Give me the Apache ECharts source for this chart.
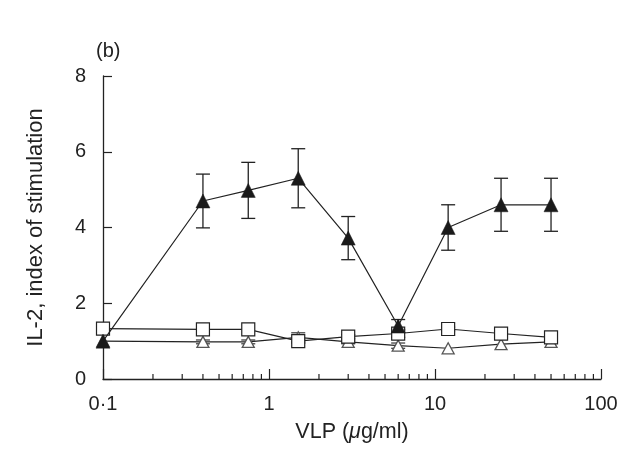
<!DOCTYPE html>
<html><head><meta charset="utf-8">
<script src="https://cdn.jsdelivr.net/npm/echarts@6/dist/echarts.min.js"></script>
<style>html,body{margin:0;padding:0;background:#fff}#c{width:633px;height:456px}</style>
</head><body><div id="c"></div>
<script>
const xVals = [0.1, 0.4, 0.75, 1.5, 3, 6, 12, 25, 50];
const filledTri = [1.0, 4.7, 4.98, 5.3, 3.72, 1.4, 4.0, 4.6, 4.6];
const filledErr = [0, 0.71, 0.74, 0.78, 0.57, 0.17, 0.6, 0.7, 0.7];
const openSq = [1.33, 1.31, 1.31, 1.0, 1.12, 1.2, 1.32, 1.2, 1.1];
const openSqErr = [0, 0, 0, 0.05, 0.05, 0.1, 0.05, 0, 0];
const openTri = [1.0, 0.98, 0.98, 1.1, 0.98, 0.88, 0.81, 0.92, 0.98];
const openTriErr = [0, 0.05, 0.05, 0.12, 0.05, 0.07, 0, 0, 0];
const minorTicks = [0.2,0.3,0.4,0.5,0.6,0.7,0.8,0.9,2,3,4,5,6,7,8,9,20,30,40,50,60,70,80,90];
const xTickLabels = {0.1:'0·1', 1:'1', 10:'10', 100:'100'};

const FONT = 'Liberation Sans';
const INK = '#222';
const FS = 20;
const NFS = 21.5;

function pairs(ys){ return xVals.map((x,i)=>[x, ys[i]]); }
function errData(ys, es){ return xVals.map((x,i)=>[x, ys[i]-es[i], ys[i]+es[i]]).filter((d,i)=>es[i]>0); }
function errSeries(ys, es, color, z){
  return {
    type:'custom', z:z, silent:true, clip:false,
    data: errData(ys, es),
    renderItem: function(params, api){
      const lo = api.coord([api.value(0), api.value(1)]);
      const hi = api.coord([api.value(0), api.value(2)]);
      const w = 7;
      const st = {stroke: color, lineWidth: 1.3};
      return {type:'group', children:[
        {type:'line', shape:{x1:lo[0],y1:lo[1],x2:hi[0],y2:hi[1]}, style:st},
        {type:'line', shape:{x1:lo[0]-w,y1:lo[1],x2:lo[0]+w,y2:lo[1]}, style:st},
        {type:'line', shape:{x1:hi[0]-w,y1:hi[1],x2:hi[0]+w,y2:hi[1]}, style:st}
      ]};
    }
  };
}

const chart = echarts.init(document.getElementById('c'));
chart.setOption({
  animation:false,
  backgroundColor:'#fff',
  title:{text:'(b)', left:91, top:36, textStyle:{fontFamily:FONT, fontSize:FS, fontWeight:'normal', color:INK}},
  grid:{left:103, right:32, top:76, bottom:77},
  xAxis:{
    type:'log', logBase:10, min:0.1, max:100,
    name:'{n|VLP (}{i|μ}{n|g/ml)}', nameLocation:'middle', nameGap:42,
    nameTextStyle:{rich:{
      n:{fontFamily:FONT, fontSize:NFS, color:INK},
      i:{fontFamily:FONT, fontSize:NFS, color:INK, fontStyle:'italic'}
    }},
    axisLine:{show:true, lineStyle:{color:INK, width:1.3}},
    axisTick:{show:true, inside:true, length:10, lineStyle:{color:INK, width:1.2}},
    axisLabel:{fontFamily:FONT, fontSize:FS, color:INK, margin:15, formatter:v=>xTickLabels[v] !== undefined ? xTickLabels[v] : ''},
    splitLine:{show:false}
  },
  yAxis:{
    type:'value', min:0, max:8, interval:2,
    name:'IL-2, index of stimulation', nameLocation:'middle', nameGap:56,
    nameTextStyle:{fontFamily:FONT, fontSize:22, color:INK},
    axisLine:{show:true, lineStyle:{color:INK, width:1.3}},
    axisTick:{show:true, inside:true, length:9, lineStyle:{color:INK, width:1.2}},
    axisLabel:{fontFamily:FONT, fontSize:FS, color:INK, margin:17},
    splitLine:{show:false}
  },
  series:[
    {
      type:'custom', silent:true, clip:false, z:1,
      data: minorTicks.map(v=>[v, 0]),
      renderItem:function(params, api){
        const p = api.coord([api.value(0), api.value(1)]);
        return {type:'line', shape:{x1:p[0],y1:p[1],x2:p[0],y2:p[1]-5}, style:{stroke:INK, lineWidth:1.2}};
      }
    },
    errSeries(openTri, openTriErr, '#444', 3),
    errSeries(openSq, openSqErr, '#222', 4),
    {
      type:'line', data:pairs(openTri), z:5,
      symbol:'triangle', symbolSize:[12,11], showSymbol:true,
      lineStyle:{color:'#222', width:1.1},
      itemStyle:{color:'#fff', borderColor:'#555', borderWidth:1.3}
    },
    {
      type:'line', data:pairs(openSq), z:6,
      symbol:'rect', symbolSize:13, showSymbol:true,
      lineStyle:{color:'#222', width:1.1},
      itemStyle:{color:'#fff', borderColor:'#222', borderWidth:1.2}
    },
    errSeries(filledTri, filledErr, '#222', 7),
    {
      type:'line', data:pairs(filledTri), z:8,
      symbol:'triangle', symbolSize:[14,14], showSymbol:true,
      lineStyle:{color:'#222', width:1.2},
      itemStyle:{color:'#1a1a1a', borderColor:'#1a1a1a', borderWidth:0.5}
    }
  ]
});
</script></body></html>
